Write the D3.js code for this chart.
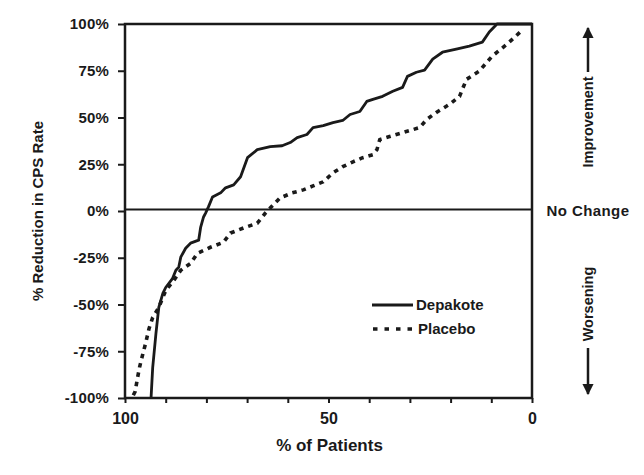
<!DOCTYPE html>
<html><head><meta charset="utf-8">
<script src="https://cdn.jsdelivr.net/npm/d3@7"></script>
<style>
body{margin:0;background:#fff;}
text{font-family:"Liberation Sans",Arial,sans-serif;font-weight:bold;fill:#1a1a1a;}
</style></head><body>
<svg id="c" width="644" height="475"></svg>
<script>
// Data: x = % of patients, y = % reduction in CPS rate
const depakoteX = [0, 8.6, 10.5, 12.2, 15.4, 18.6, 22.0, 24.4, 26.4, 28.4, 30.6, 31.8, 34.2, 36.7, 39.1, 40.6, 42.3, 44.7, 46.5, 48.9, 51.3, 53.8, 55.3, 57.7, 59.4, 61.4, 64.3, 67.5, 69.9, 71.6, 73.3, 75.3, 76.5, 78.5, 79.5, 80.2, 80.7, 81.4, 81.9, 83.9, 85.1, 86.3, 86.8, 87.5, 88.3, 90.0, 90.7, 91.7, 92.4, 93.2, 93.6];
const depakoteY = [100, 100, 95.7, 90.3, 88.2, 86.6, 84.9, 81.2, 75.3, 74.2, 72.0, 66.1, 64.0, 61.3, 59.7, 58.6, 53.2, 51.6, 48.4, 47.3, 45.7, 44.6, 40.9, 39.2, 36.6, 34.9, 34.4, 32.8, 28.5, 18.3, 14.0, 12.4, 9.7, 7.5, 2.2, -1.1, -3.2, -8.6, -15.6, -17.2, -19.9, -24.7, -30.1, -31.7, -36.0, -40.9, -44.1, -51.6, -65.6, -83.9, -100];
const placeboX = [3.0, 5.6, 7.6, 9.8, 13.0, 16.1, 17.1, 17.8, 20.3, 23.5, 25.9, 27.6, 31.8, 35.0, 37.4, 38.1, 39.1, 41.6, 44.0, 46.5, 48.9, 51.3, 53.8, 56.2, 58.9, 61.9, 63.6, 65.5, 67.5, 70.9, 74.1, 75.8, 79.0, 82.2, 83.9, 86.3, 88.0, 90.0, 91.7, 93.2, 94.1, 94.9, 95.6, 96.4, 96.9, 97.5, 98.3];
const placeboY = [95.5, 90.3, 86.6, 82.8, 74.7, 70.4, 65.1, 61.3, 57.0, 52.7, 48.9, 44.6, 41.9, 39.8, 38.2, 32.8, 30.1, 28.5, 26.3, 23.7, 20.4, 15.6, 13.4, 11.3, 9.7, 7.0, 3.2, -1.1, -6.5, -9.1, -11.8, -16.7, -19.4, -22.6, -28.0, -31.7, -37.1, -42.5, -51.6, -57.0, -62.9, -70.4, -76.3, -83.3, -89.0, -96.5, -100];
const yTicks = [100, 75, 50, 25, 0, -25, -50, -75, -100];
const xTicks = [100, 90, 80, 70, 60, 50, 40, 30, 20, 10, 0];
const xLabelTicks = [100, 50, 0];
const seriesNames = ["Depakote", "Placebo"];

const svg = d3.select("#c");
const L = 125, R = 532, T = 24, B = 398;
const x = d3.scaleLinear().domain([100, 0]).range([L, R]);
const y = d3.scaleLinear().domain([-100, 100]).range([B, T]);
const ink = "#1a1a1a";

// y axis
const ya = svg.append("g").attr("transform", `translate(${L},0)`)
  .call(d3.axisLeft(y).tickValues(yTicks).tickSize(7).tickPadding(9).tickFormat(d => d + "%"));
ya.select(".domain").remove();
ya.selectAll("line").attr("stroke", ink).attr("stroke-width", 2);
ya.selectAll("text").attr("font-size", 15).attr("letter-spacing", "0.2px").style("font-family", "Liberation Sans, Arial").style("font-weight", "bold").attr("fill", ink);

// x axis
const xa = svg.append("g").attr("transform", `translate(0,${B})`)
  .call(d3.axisBottom(x).tickValues(xTicks).tickSize(5).tickPadding(10).tickFormat(d => xLabelTicks.includes(d) ? d : ""));
xa.select(".domain").remove();
xa.selectAll("line").attr("stroke", ink).attr("stroke-width", 2);
xa.selectAll("text").attr("font-size", 16).style("font-weight", "bold").attr("fill", ink);

// frame
svg.append("rect").attr("x", L).attr("y", T).attr("width", R - L).attr("height", B - T)
  .attr("fill", "none").attr("stroke", ink).attr("stroke-width", 2.5);
// zero line
svg.append("line").attr("x1", L).attr("x2", R).attr("y1", y(0) - 1.5).attr("y2", y(0) - 1.5)
  .attr("stroke", ink).attr("stroke-width", 2.2);

const line = d3.line().x(d => x(d[0])).y(d => y(d[1]));
const dep = depakoteX.map((v, i) => [v, depakoteY[i]]);
const pla = placeboX.map((v, i) => [v, placeboY[i]]);
svg.append("path").attr("d", line(dep)).attr("fill", "none").attr("stroke", ink).attr("stroke-width", 2.8).attr("stroke-linejoin", "round");
svg.append("path").attr("d", line(pla)).attr("fill", "none").attr("stroke", ink).attr("stroke-width", 3.6).attr("stroke-dasharray", "4.5,5");

// legend
const lg = svg.append("g");
lg.append("line").attr("x1", 372).attr("x2", 413).attr("y1", 305).attr("y2", 305).attr("stroke", ink).attr("stroke-width", 2.8);
lg.append("line").attr("x1", 373).attr("x2", 414).attr("y1", 329).attr("y2", 329).attr("stroke", ink).attr("stroke-width", 3.6).attr("stroke-dasharray", "4.5,7");
lg.append("text").attr("x", 416).attr("y", 310).attr("font-size", 15).text(seriesNames[0]);
lg.append("text").attr("x", 418).attr("y", 334).attr("font-size", 15).text(seriesNames[1]);

// axis titles
svg.append("text").attr("x", (L + R) / 2 + 1).attr("y", 451).attr("text-anchor", "middle").attr("font-size", 17).text("% of Patients");
svg.append("text").attr("transform", `translate(43,${(T + B) / 2}) rotate(-90)`).attr("text-anchor", "middle").attr("font-size", 15).text("% Reduction in CPS Rate");

// right annotations
svg.append("text").attr("x", 588).attr("y", 216).attr("text-anchor", "middle").attr("font-size", 15).attr("letter-spacing", "0.4px").text("No Change");
svg.append("text").attr("transform", `translate(593,122) rotate(-90)`).attr("text-anchor", "middle").attr("font-size", 14.5).text("Improvement");
svg.append("text").attr("transform", `translate(593,304) rotate(-90)`).attr("text-anchor", "middle").attr("font-size", 14.5).text("Worsening");
const defs = svg.append("defs");
defs.append("marker").attr("id", "ah").attr("viewBox", "0 0 10 10").attr("refX", 9).attr("refY", 5)
  .attr("markerWidth", 4.5).attr("markerHeight", 4.5).attr("orient", "auto")
  .append("path").attr("d", "M0,0L10,5L0,10Z").attr("fill", ink);
svg.append("line").attr("x1", 588).attr("x2", 588).attr("y1", 72).attr("y2", 28).attr("stroke", ink).attr("stroke-width", 2.5).attr("marker-end", "url(#ah)");
svg.append("line").attr("x1", 588).attr("x2", 588).attr("y1", 348).attr("y2", 394).attr("stroke", ink).attr("stroke-width", 2.5).attr("marker-end", "url(#ah)");
</script></body></html>
